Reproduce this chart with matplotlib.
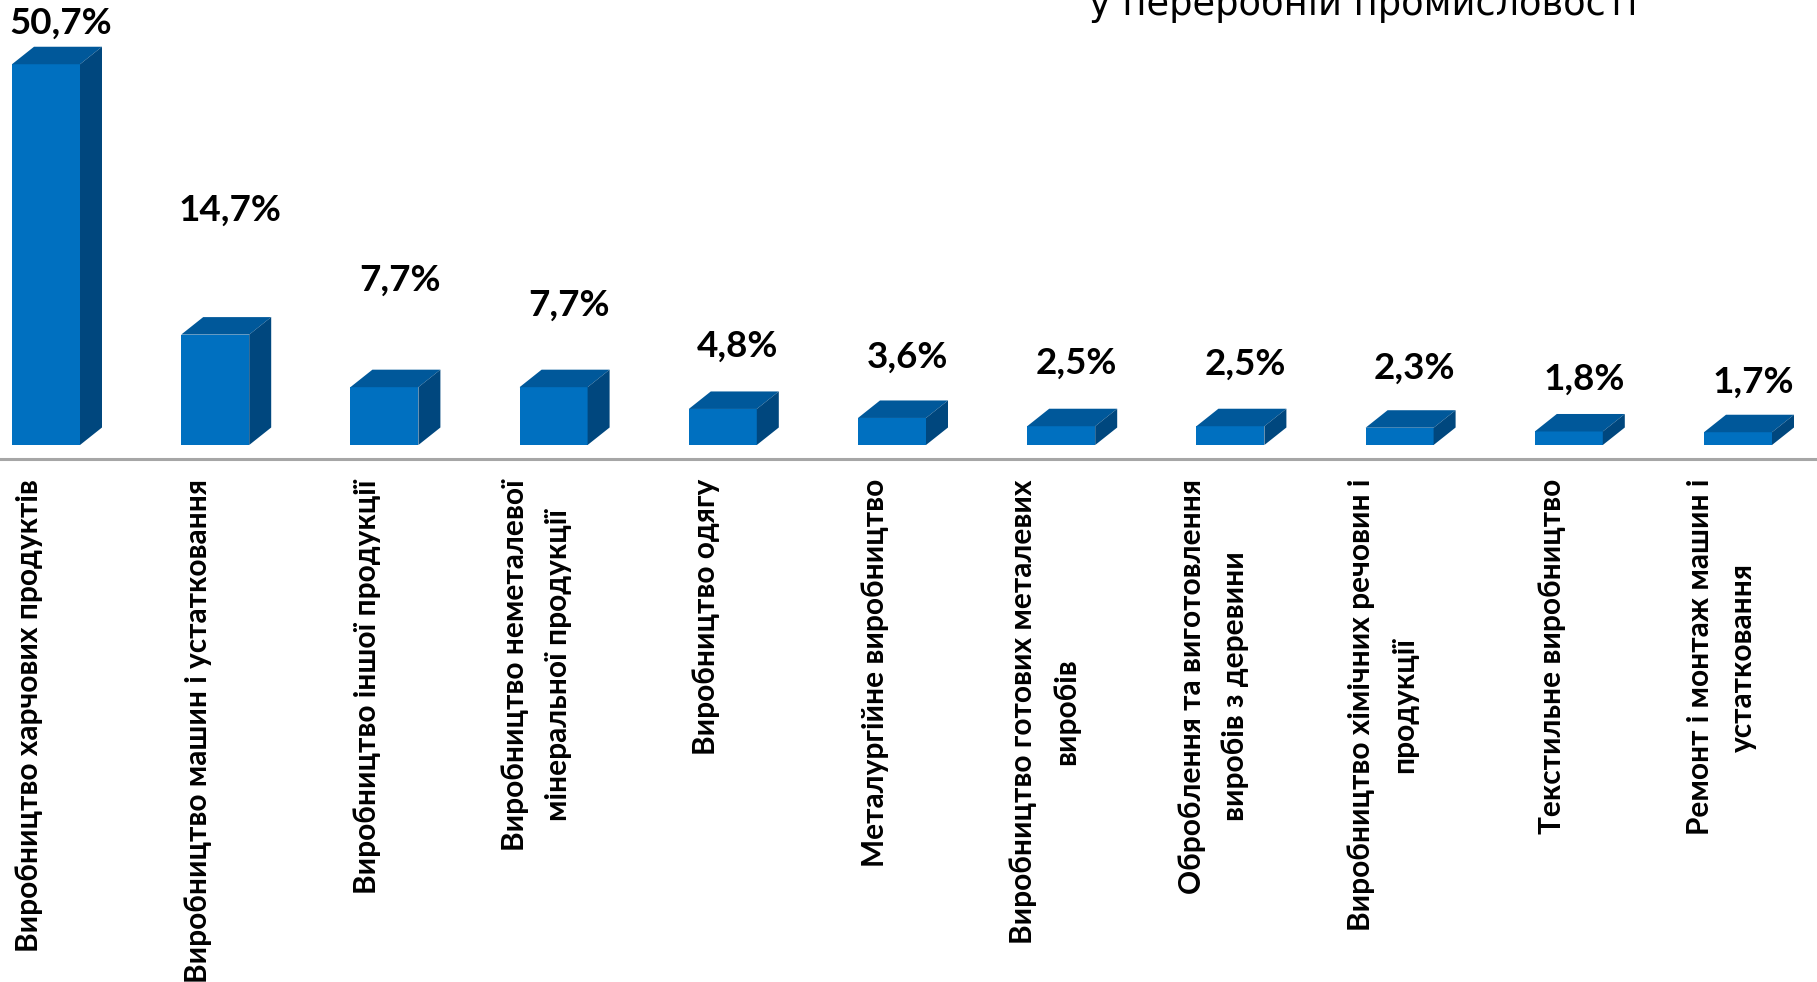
#!/usr/bin/env python3
"""
Pseudo-3D column chart: structure of processing industry (shares, %).
"""

import matplotlib
matplotlib.use('Agg')
import matplotlib.pyplot as plt
from matplotlib.patches import Polygon, Rectangle

# Data
categories = [
    'Виробництво харчових продуктів',
    'Виробництво машин і устатковання',
    'Виробництво іншої продукції',
    'Виробництво неметалевої\nмінеральної продукції',
    'Виробництво одягу',
    'Металургійне виробництво',
    'Виробництво готових металевих\nвиробів',
    'Оброблення та виготовлення\nвиробів з деревини',
    'Виробництво хімічних речовин і\nпродукції',
    'Текстильне виробництво',
    'Ремонт і монтаж машин і\nустатковання',
]
values = [50.7, 14.7, 7.7, 7.7, 4.8, 3.6, 2.5, 2.5, 2.3, 1.8, 1.7]
value_labels = ['50,7%', '14,7%', '7,7%', '7,7%', '4,8%', '3,6%',
                '2,5%', '2,5%', '2,3%', '1,8%', '1,7%']
# label heights (data units) as Excel placed them
label_y = [56.2, 31.3, 21.9, 18.6, 13.2, 11.7, 10.9, 10.7, 10.2, 8.7, 8.4]

title_tail = 'у переробній промисловості'

FRONT = '#0070C0'
TOP = '#00589A'
SIDE = '#00477E'

W, H = 1817, 982
step = 169.2      # px per category
px_per_pct = 7.51
base_px = 445     # baseline of bars, px from top

fig = plt.figure(figsize=(W / 100, H / 100), dpi=100)
# axes spans full width; bottom at 470 px, top at figure top
ax_bottom = 470
ax = fig.add_axes([0, 1 - ax_bottom / H, 1, ax_bottom / H])
x0 = -29 / step
ax.set_xlim(x0, x0 + W / step)
ax.set_ylim(-(ax_bottom - base_px) / px_per_pct, base_px / px_per_pct)
ax.axis('off')

front_l = -17 / step
front_w = 68 / step
dx = 22 / step
dy = 17.5 / px_per_pct

for i, v in enumerate(values):
    xl = i + front_l
    xr = xl + front_w
    ax.add_patch(Rectangle((xl, 0), front_w, v, facecolor=FRONT, edgecolor='none', zorder=3))
    ax.add_patch(Polygon([(xl, v), (xr, v), (xr + dx, v + dy), (xl + dx, v + dy)],
                         closed=True, facecolor=TOP, edgecolor='none', zorder=3))
    ax.add_patch(Polygon([(xr, 0), (xr + dx, dy), (xr + dx, v + dy), (xr, v)],
                         closed=True, facecolor=SIDE, edgecolor='none', zorder=3))
    ax.text(i + 0.19, label_y[i], value_labels[i], ha='center', va='center',
            fontsize=26.5, fontweight='bold', family='Lato', color='black', zorder=4)

# axis line
ax.axhline(-14 / px_per_pct, color='#A6A6A6', lw=2.2, zorder=2)

# category labels below the axis
for i, c in enumerate(categories):
    xf = (29 + step * i) / W
    fig.text(xf, 1 - 479 / H, c, rotation=90, ha='center', va='top',
             multialignment='center', fontsize=21.5, fontweight='bold',
             family='Lato', linespacing=1.65)

fig.text(1363 / W, 1 - 15 / H, title_tail, ha='center', va='baseline',
         fontsize=26.5, family='Liberation Sans Narrow', color='black')

fig.savefig('out.png', dpi=100)
